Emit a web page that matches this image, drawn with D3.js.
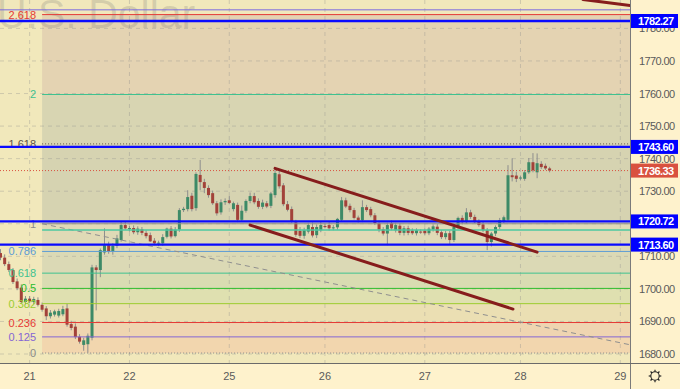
<!DOCTYPE html>
<html>
<head>
<meta charset="utf-8">
<script src="https://cdn.jsdelivr.net/npm/d3@7"></script>
<style>
  body { margin: 0; background: #fef2cc; }
  svg { display: block; }
  text { font-family: "Liberation Sans", Arial, sans-serif; }
</style>
</head>
<body>
<svg id="chart" width="680" height="389"></svg>
<script>
// hourly candles, [open, high, low, close]
const candles = [
  [1711, 1712.2, 1708.8, 1709.6], [1709.6, 1710.6, 1707, 1707.6], [1707.6, 1708.4, 1705.2, 1705.8],
  [1705.8, 1706.4, 1701.5, 1702.1], [1702.3, 1703.2, 1699.6, 1700.2], [1700.4, 1701.4, 1695.4, 1696],
  [1696, 1697.8, 1695.2, 1697], [1697, 1697.8, 1695.6, 1696.2], [1696, 1697.6, 1695.3, 1696.9],
  [1696.6, 1697.4, 1694.6, 1695.1], [1695.1, 1695.8, 1693, 1693.6], [1694, 1694.7, 1690.4, 1691.6],
  [1691.6, 1693.5, 1690.9, 1692.7], [1692.1, 1693.6, 1691.5, 1693.1], [1691.8, 1693.9, 1691.2, 1693.2],
  [1692.2, 1694.8, 1691.6, 1693.8], [1694, 1695.4, 1688.4, 1689], [1689.2, 1690.2, 1687.3, 1688],
  [1688.4, 1689.4, 1684.6, 1685.2], [1685.3, 1686.1, 1683.2, 1683.8], [1682.8, 1685, 1681, 1684.2],
  [1683, 1686.3, 1680.4, 1685.6], [1685, 1707.4, 1684.2, 1706.6], [1706.6, 1707.3, 1693.4, 1705.8],
  [1705.8, 1712.4, 1703.6, 1711.9], [1711.2, 1718.6, 1710.5, 1713.4], [1713.4, 1714.5, 1710.8, 1711.6],
  [1711.6, 1714, 1710.5, 1713.2], [1713.2, 1716.6, 1712.5, 1715.5], [1715, 1720.6, 1714.5, 1719.6],
  [1719.6, 1720.5, 1718.2, 1718.6], [1718.5, 1719.3, 1717.6, 1718.7], [1718.7, 1719.5, 1716.8, 1717.4],
  [1717.4, 1719.2, 1716.6, 1718.5], [1718.3, 1719, 1716.5, 1717.2], [1717.2, 1718, 1715.5, 1716.2],
  [1716.5, 1717.3, 1714.4, 1714.6], [1714.8, 1715.6, 1713.4, 1714], [1714, 1714.8, 1713.1, 1714.2],
  [1714, 1716.8, 1713.2, 1715.9], [1716, 1718.8, 1715.5, 1718.5], [1718.5, 1719.3, 1715.5, 1716.1],
  [1716.2, 1719, 1715.8, 1718.2], [1718.2, 1724.8, 1717.5, 1724.2], [1724.2, 1725.2, 1723.6, 1724.6],
  [1724.5, 1730.3, 1723.8, 1728.2], [1728.6, 1729.5, 1723.8, 1724.5], [1724.8, 1735.8, 1724, 1735.3],
  [1735, 1739.6, 1730.3, 1732.8], [1732.8, 1733.8, 1729.4, 1731], [1731, 1731.8, 1728, 1728.8],
  [1729.4, 1730.2, 1725.8, 1726.3], [1726.3, 1727, 1722.5, 1723.2], [1723.5, 1727.5, 1722.8, 1726.6],
  [1726.6, 1727.8, 1725.8, 1727], [1727.2, 1728.5, 1726, 1726.4], [1724.5, 1726.8, 1723.8, 1726.3],
  [1725.8, 1726.5, 1720.5, 1721.2], [1721.2, 1725.6, 1720.8, 1724], [1724, 1727.5, 1723.4, 1727],
  [1727, 1729.6, 1726.3, 1728.5], [1728.5, 1729.5, 1726, 1726.6], [1727, 1727.8, 1724.6, 1725.2],
  [1725.2, 1727.4, 1724.5, 1726.5], [1726.3, 1727, 1724.8, 1725.3], [1725.5, 1729.8, 1724.8, 1729.3],
  [1728.8, 1737.2, 1728, 1735.6], [1735.2, 1736.5, 1730.8, 1731.5], [1731.8, 1732.5, 1725.4, 1726],
  [1726, 1727, 1723.8, 1724.3], [1724.5, 1725.3, 1720.3, 1720.8], [1720.4, 1721.2, 1716, 1716.6],
  [1717.8, 1719, 1715.6, 1716.3], [1716.3, 1718.8, 1715.4, 1718], [1717.6, 1720.3, 1717, 1719.6],
  [1719, 1720.4, 1715.8, 1716.4], [1716.5, 1719.8, 1715.6, 1719], [1718, 1720.6, 1717.4, 1719.6],
  [1719.3, 1720.2, 1718.6, 1719.2], [1719.6, 1720.5, 1717.9, 1718.6], [1718.7, 1719.6, 1718, 1718.9],
  [1718.9, 1721.8, 1718.2, 1721.5], [1721.2, 1728.2, 1720.8, 1727.2], [1727.2, 1728, 1724.8, 1725.3],
  [1725.5, 1726.2, 1723.5, 1724.2], [1724.2, 1724.9, 1721.3, 1721.8], [1721.9, 1722.5, 1720.4, 1721.1],
  [1721.1, 1727.2, 1720.5, 1725.1], [1725.1, 1725.8, 1723.6, 1724.2], [1724.5, 1725.2, 1722, 1722.6],
  [1722.6, 1723.3, 1719.6, 1720.2], [1720.2, 1721, 1717.4, 1718.2], [1718.3, 1719, 1716.4, 1717],
  [1717, 1720.3, 1713.4, 1719.6], [1720.2, 1721, 1718, 1718.6], [1718, 1720.3, 1717.3, 1719.6],
  [1719.4, 1720.2, 1716.5, 1717.2], [1717.2, 1719.3, 1716.4, 1718.6], [1718.6, 1719.4, 1716.5, 1717.2],
  [1717.9, 1718.6, 1716.6, 1717.1], [1717.1, 1718.6, 1716.4, 1718], [1717.6, 1718.3, 1716.9, 1717.5],
  [1717.9, 1718.6, 1716.6, 1717.1], [1717.1, 1719, 1716.5, 1718.5], [1718.2, 1719.8, 1717.6, 1719.2],
  [1719.1, 1719.9, 1716.5, 1717.2], [1717.4, 1718, 1715.3, 1715.9], [1715.9, 1717.8, 1715.2, 1717.1],
  [1717.1, 1717.8, 1713.8, 1715], [1715, 1720, 1714.4, 1719], [1719, 1722.2, 1718.4, 1721.8],
  [1721.8, 1722.6, 1719.8, 1720.5], [1720.5, 1724.8, 1720, 1723.5], [1723.5, 1724.3, 1721.5, 1722.1],
  [1722.1, 1722.8, 1720.2, 1720.5], [1720.8, 1721.4, 1719.1, 1719.6], [1719.8, 1720.6, 1717.4, 1718],
  [1718, 1718.7, 1711.9, 1714.4], [1714.4, 1717.5, 1713, 1717], [1717, 1719.5, 1716.2, 1719],
  [1719, 1721.8, 1718.4, 1721.1], [1720.8, 1722.5, 1720.2, 1722], [1721.2, 1738, 1720.6, 1734.9],
  [1734.9, 1740.1, 1733, 1734.3], [1734.8, 1736, 1732.8, 1733.8], [1734, 1734.8, 1733.3, 1734.2],
  [1733.8, 1736.5, 1733.2, 1735.8], [1735.8, 1740.2, 1735.3, 1738.9], [1738.9, 1741.7, 1735.8, 1736.4],
  [1735.8, 1741.6, 1734, 1738.6], [1738.4, 1739.2, 1736.8, 1737.4], [1737.8, 1738.5, 1736.5, 1737],
  [1737, 1737.5, 1735.8, 1736.33]
];

// x axis: bar index where each day starts
const dayTicks = [7, 31, 55, 78, 102, 125, 149];
const dayLabels = ['21', '22', '25', '26', '27', '28', '29'];
const priceTicks = [1680, 1690, 1700, 1710, 1720, 1730, 1740, 1750, 1760, 1770, 1780];

// fibonacci retracement (anchored at bar 10 -> bar 161)
const fibLow = 1680.3;
const fibHigh = 1720.0;
const fibLevels = [0, 0.125, 0.236, 0.382, 0.5, 0.618, 0.786, 1, 1.618, 2, 2.618];
const fibAnchors = [[10, 1720.0], [161, 1680.3]];

// horizontal lines
const blueLevels = [1782.27, 1743.60, 1720.72, 1713.60];
const tealLevel = 1718.1;
const purpleLevel = 1785.7;
const lastPrice = 1736.33;

// trend channel + another line at top right, [bar, price]
const channelUpper = [[66, 1737.0], [129, 1711.3]];
const channelLower = [[60, 1719.6], [123.2, 1693.8]];
const topLine = [[140, 1788.9], [152, 1786.9]];

// styles
const fibColors = ['#8a8a8a', '#8466d4', '#e53935', '#9ccc30', '#2dbd2d', '#3ec28f',
                   '#5b9bd5', '#8c8c8c', '#5e5448', '#3ec28f', '#e53935'];
const fibFills = ['#f2d6ae', '#efd5b1', '#ebdfb3', '#dfe0b0', '#d9dcb2',
                  '#dbd9b5', '#e0dab6', '#d6d3b1', '#d8d5b2', '#e4d3b2'];

const W = 680, H = 389;
const plotW = 630, plotH = 363;

const svg = d3.select('#chart');
const x = d3.scaleLinear().domain([0, 132]).range([0.5, 549.6]);
const y = d3.scaleLinear().domain([1677.24, 1788.72]).range([plotH, 0]);
const fibPrice = lvl => fibLow + lvl * (fibHigh - fibLow);
const fibX = x(fibAnchors[0][0]);

// backgrounds
svg.append('rect').attr('width', W).attr('height', H).attr('fill', '#fef2cc');
svg.append('defs').append('clipPath').attr('id', 'plotclip')
  .append('rect').attr('width', plotW).attr('height', plotH);
const plot = svg.append('g').attr('clip-path', 'url(#plotclip)');
plot.append('rect').attr('width', plotW).attr('height', plotH).attr('fill', '#f1e8bb');

// fib bands
plot.selectAll('.band').data(d3.pairs(fibLevels)).enter().append('rect')
  .attr('x', fibX).attr('width', plotW - fibX)
  .attr('y', d => y(fibPrice(d[1])))
  .attr('height', d => y(fibPrice(d[0])) - y(fibPrice(d[1])))
  .attr('fill', (d, i) => fibFills[i]);

// grid
plot.selectAll('.vgrid').data(dayTicks).enter().append('line')
  .attr('x1', d => x(d)).attr('x2', d => x(d)).attr('y1', 0).attr('y2', plotH)
  .attr('stroke', 'rgba(140,140,140,0.35)').attr('stroke-dasharray', '4,4');
plot.selectAll('.hgrid').data(priceTicks).enter().append('line')
  .attr('x1', 0).attr('x2', plotW).attr('y1', d => y(d)).attr('y2', d => y(d))
  .attr('stroke', 'rgba(140,140,140,0.35)').attr('stroke-dasharray', '4,4');

// watermark
plot.append('text').attr('x', -3).attr('y', 28).attr('font-size', 41)
  .attr('fill', 'rgba(110,110,110,0.22)').text('U.S. Dollar');

// candles
const bars = plot.selectAll('.candle').data(candles).enter().append('g');
bars.append('line')
  .attr('x1', (d, i) => x(i)).attr('x2', (d, i) => x(i))
  .attr('y1', d => y(d[1])).attr('y2', d => y(d[2]))
  .attr('stroke', '#8d8d8d').attr('stroke-width', 1);
bars.append('rect')
  .attr('x', (d, i) => x(i) - 1.5).attr('width', 3)
  .attr('y', d => y(Math.max(d[0], d[3])))
  .attr('height', d => Math.max(1, Math.abs(y(d[0]) - y(d[3]))))
  .attr('fill', d => d[3] >= d[0] ? '#3d8a67' : '#a2423a');

// fib level lines
plot.selectAll('.fibline').data(fibLevels).enter().append('line')
  .attr('x1', fibX).attr('x2', plotW)
  .attr('y1', d => y(fibPrice(d))).attr('y2', d => y(fibPrice(d)))
  .attr('stroke', (d, i) => fibColors[i])
  .attr('stroke-width', 1)
  .attr('stroke-dasharray', d => (d === 0 || d === 1.618) ? '1,2' : null);
plot.selectAll('.fiblabel').data(fibLevels).enter().append('text')
  .attr('x', fibX - 6).attr('y', d => y(fibPrice(d)) + 4)
  .attr('text-anchor', 'end').attr('font-size', 11)
  .attr('fill', (d, i) => fibColors[i]).text(d => d);

// fib diagonal
plot.append('line')
  .attr('x1', x(fibAnchors[0][0])).attr('y1', y(fibAnchors[0][1]))
  .attr('x2', x(fibAnchors[1][0])).attr('y2', y(fibAnchors[1][1]))
  .attr('stroke', '#8f8f8f').attr('stroke-dasharray', '5,4');

// other horizontal lines
plot.append('line').attr('x1', fibX).attr('x2', plotW)
  .attr('y1', y(tealLevel)).attr('y2', y(tealLevel))
  .attr('stroke', '#4dc9a0').attr('stroke-width', 1.5);
plot.append('line').attr('x1', 0).attr('x2', plotW)
  .attr('y1', y(purpleLevel)).attr('y2', y(purpleLevel))
  .attr('stroke', '#7b6be0').attr('stroke-width', 1);
plot.append('line').attr('x1', 0).attr('x2', plotW)
  .attr('y1', y(lastPrice)).attr('y2', y(lastPrice))
  .attr('stroke', '#d9513f').attr('stroke-dasharray', '1,2');
plot.selectAll('.blue').data(blueLevels).enter().append('line')
  .attr('x1', 0).attr('x2', plotW)
  .attr('y1', d => y(d)).attr('y2', d => y(d))
  .attr('stroke', '#0a0aff').attr('stroke-width', 2.4);

// channel lines
[channelUpper, channelLower, topLine].forEach(pts => {
  plot.append('line')
    .attr('x1', x(pts[0][0])).attr('y1', y(pts[0][1]))
    .attr('x2', x(pts[1][0])).attr('y2', y(pts[1][1]))
    .attr('stroke', '#861c1c').attr('stroke-width', 3).attr('stroke-linecap', 'round');
});

// axes frame
svg.append('line').attr('x1', plotW + 0.5).attr('x2', plotW + 0.5).attr('y1', 0).attr('y2', H)
  .attr('stroke', '#7a7a7a');
svg.append('line').attr('x1', 0).attr('x2', W).attr('y1', plotH + 0.5).attr('y2', plotH + 0.5)
  .attr('stroke', '#6a6a6a');

// right axis labels (skip the ones a price box fully covers)
const fmt = d3.format('.2f');
const boxes = blueLevels.map(v => ({ v, c: '#0000ff' })).concat([{ v: lastPrice, c: '#d9513f' }]);
const visibleTicks = priceTicks.filter(t => boxes.every(b => Math.abs(y(b.v) - y(t)) > 5));
svg.selectAll('.ptick').data(visibleTicks).enter().append('text')
  .attr('x', 639).attr('y', d => y(d) + 4)
  .attr('font-size', 11).attr('letter-spacing', -0.6)
  .attr('fill', '#5a5a5a').text(d => fmt(d));

// price boxes
const box = svg.selectAll('.pbox').data(boxes).enter().append('g');
box.append('rect').attr('x', 631).attr('width', 47)
  .attr('y', d => y(d.v) - 7).attr('height', 14).attr('fill', d => d.c);
box.append('text').attr('x', 638).attr('y', d => y(d.v) + 4)
  .attr('font-size', 11).attr('font-weight', 'bold').attr('letter-spacing', -0.6)
  .attr('fill', '#fff').text(d => fmt(d.v));

// bottom axis labels
svg.selectAll('.dtick').data(dayTicks).enter().append('text')
  .attr('x', d => x(d)).attr('y', 380).attr('text-anchor', 'middle')
  .attr('font-size', 11).attr('fill', '#5a5a5a')
  .text((d, i) => dayLabels[i]);

// settings gear
const gear = svg.append('g').attr('transform', 'translate(655,376)')
  .attr('stroke', '#222').attr('fill', 'none');
gear.append('circle').attr('r', 4.2).attr('stroke-width', 1.1);
d3.range(8).forEach(k => {
  const a = k * Math.PI / 4;
  gear.append('line')
    .attr('x1', Math.cos(a) * 4.2).attr('y1', Math.sin(a) * 4.2)
    .attr('x2', Math.cos(a) * 6.3).attr('y2', Math.sin(a) * 6.3)
    .attr('stroke-width', 1.2);
});
</script>
</body>
</html>
